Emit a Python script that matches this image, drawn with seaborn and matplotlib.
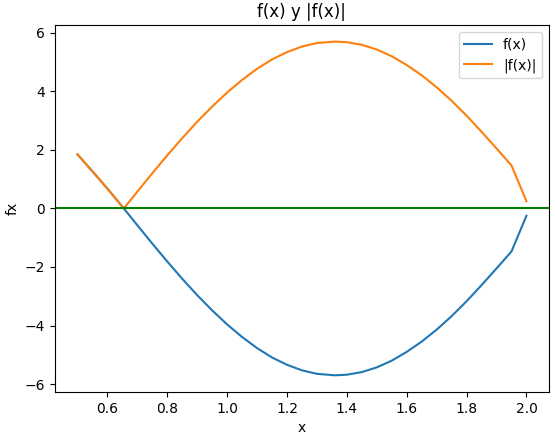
import matplotlib
matplotlib.use("Agg")
import matplotlib.pyplot as plt
import seaborn as sns

x = [0.5, 0.55, 0.6, 0.655, 0.7, 0.75, 0.8, 0.85, 0.9, 0.95, 1.0, 1.05, 1.1, 1.15, 1.2, 1.25, 1.3, 1.36,
     1.4, 1.45, 1.5, 1.55, 1.6, 1.65, 1.7, 1.75, 1.8, 1.85, 1.9, 1.95, 2.0]
fx = [1.85, 1.27, 0.68, 0.0, -0.57, -1.20, -1.81, -2.40, -2.96, -3.48, -3.96, -4.39, -4.77, -5.09, -5.34, -5.53,
      -5.65, -5.70, -5.68, -5.59, -5.43, -5.20, -4.90, -4.55, -4.14, -3.68, -3.17, -2.62, -2.05, -1.47, -0.25]
absfx = [abs(v) for v in fx]

fig, ax = plt.subplots(figsize=(5.55, 4.37), dpi=100)
sns.lineplot(x=x, y=fx, ax=ax, label="f(x)", color="#1f77b4")
sns.lineplot(x=x, y=absfx, ax=ax, label="|f(x)|", color="#ff7f0e")
ax.axhline(0, color="green")
ax.set_title("f(x) y |f(x)|")
ax.set_xlabel("x")
ax.set_ylabel("fx")
ax.legend(loc="upper right")
fig.subplots_adjust(left=0.099, right=0.989, top=0.943, bottom=0.103)
fig.savefig("out.png", dpi=100)
